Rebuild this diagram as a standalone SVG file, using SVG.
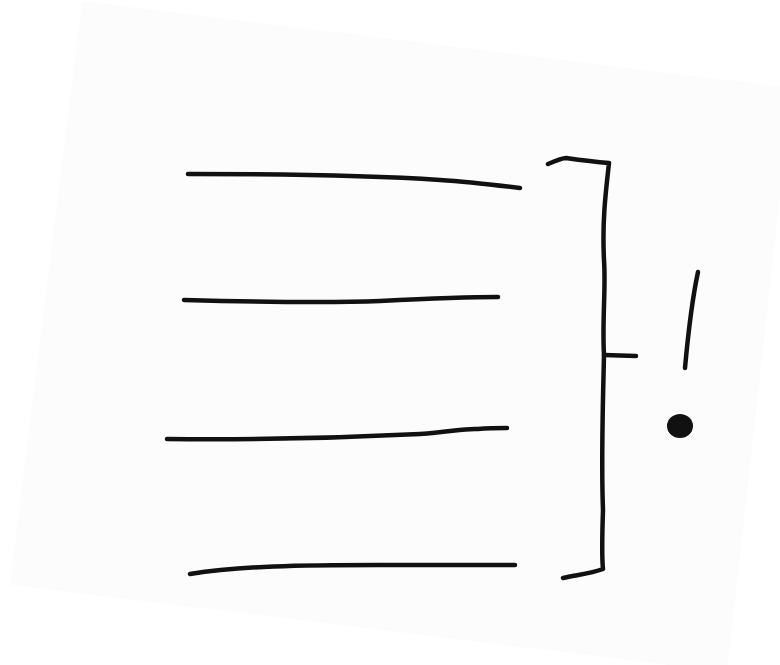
<svg xmlns="http://www.w3.org/2000/svg" width="780" height="665" viewBox="0 0 780 665">
<style>
.ink{fill:none;stroke:#111;stroke-width:4.5;stroke-linecap:round;stroke-linejoin:round}
</style>
<rect width="780" height="665" fill="#ffffff"/>
<polygon points="82,1 792,88 727,672 10,585" fill="#fcfcfc"/>
<g id="connectors">
<path class="ink" d="M188,174 C280,174 380,176 440,180 C470,182 495,185 520,188"/>
<path class="ink" d="M184,300 C260,302 330,303 380,301 C420,299 460,297 498,297"/>
<path class="ink" d="M167,439 C260,440 340,438 420,434 C450,432 465,428 478,429 C490,428 500,428 507,428"/>
<path class="ink" d="M190,574 C240,566 300,565 380,565 C440,565 480,565 515,565"/>
</g>
<g id="bracket">
<path class="ink" d="M548,164 C555,161 562,158 566,158 C580,160 596,162 609,163 C606,190 602,220 604,260 C606,290 602,320 604,355 C603,400 601,460 603,510 C602,540 602,560 603,569 C590,574 575,575 563,578"/>
<path class="ink" d="M604,355 L636,356"/>
</g>
<g id="exclamation">
<path class="ink" d="M698,272 C692,300 688,335 685,368" stroke-width="5"/>
<ellipse cx="680" cy="426" rx="13" ry="12" fill="#111"/>
</g>
</svg>
